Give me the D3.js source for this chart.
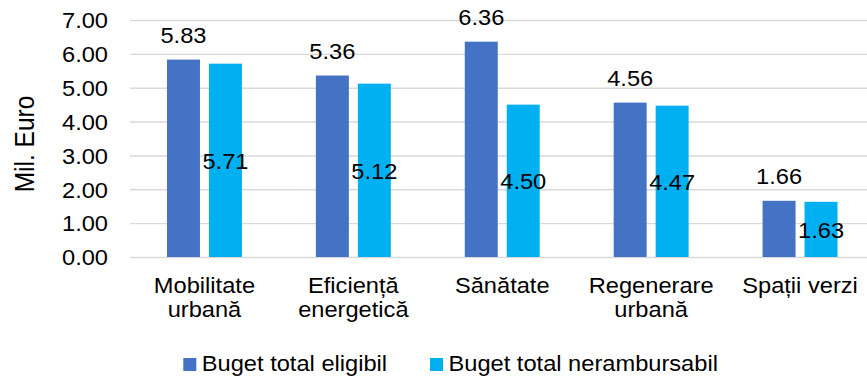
<!DOCTYPE html>
<html>
<head>
<meta charset="utf-8">
<script src="https://cdn.jsdelivr.net/npm/d3@7"></script>
<style>
  html, body { margin: 0; padding: 0; background: #fff; }
  svg { display: block; }
  text { font-family: "Liberation Sans", Arial, sans-serif; fill: #000; }
</style>
</head>
<body>
<svg id="chart" width="867" height="380"></svg>
<script>
// Program budgets by domain (million euro)
const categories = ["Mobilitate\nurbană", "Eficiență\nenergetică", "Sănătate", "Regenerare\nurbană", "Spații verzi"];
const seriesNames = ["Buget total eligibil", "Buget total nerambursabil"];
const eligibil = [5.83, 5.36, 6.36, 4.56, 1.66];
const nerambursabil = [5.71, 5.12, 4.50, 4.47, 1.63];
const yTicks = [0, 1, 2, 3, 4, 5, 6, 7];
const colors = ["#4472C4", "#00B0F0"];

const FS = 21.5;   // font size
const SX = 1.1;    // horizontal text stretch

const svg = d3.select("#chart");
const plotLeft = 130, plotRight = 874.5, plotTop = 20, plotBottom = 257;

const x0 = d3.scaleBand().domain(categories).range([plotLeft, plotRight]).paddingInner(0).paddingOuter(0);
const x1 = d3.scaleBand().domain(seriesNames).range([0, x0.bandwidth()])
  .paddingInner(9 / 42).paddingOuter(0.881);
const y = d3.scaleLinear().domain([0, 7]).range([plotBottom, plotTop]);

// Horizontal gridlines
const grid = svg.append("g").attr("transform", `translate(${plotLeft},0)`)
  .call(d3.axisLeft(y).tickValues(yTicks).tickSize(-(867 - plotLeft)).tickFormat(""));
grid.select(".domain").remove();
grid.selectAll("line").attr("stroke", "#d9d9d9").attr("stroke-width", 1.4);

// Y axis labels
const yAxis = svg.append("g").attr("transform", `translate(${plotLeft},0)`)
  .call(d3.axisLeft(y).tickValues(yTicks).tickSize(0).tickPadding(20).tickFormat(d3.format(".2f")));
yAxis.select(".domain").remove();
yAxis.selectAll("text")
  .attr("font-size", FS).attr("font-family", "Liberation Sans, Arial, sans-serif")
  .attr("fill", "#000")
  .attr("dy", "0.36em")
  .attr("transform", `scale(${SX},1)`);

// Axis title
svg.append("text")
  .attr("transform", `translate(33.5,144) rotate(-90) scale(1,1.12)`)
  .attr("text-anchor", "middle")
  .attr("font-size", 24.5)
  .text("Mil. Euro");

// Bars
const data = categories.map((c, i) => ({ c, vals: [eligibil[i], nerambursabil[i]] }));
const groups = svg.append("g").selectAll("g").data(data).join("g")
  .attr("transform", d => `translate(${x0(d.c)},0)`);

groups.selectAll("rect").data(d => d.vals.map((v, k) => ({ v, k })))
  .join("rect")
  .attr("x", d => x1(seriesNames[d.k]))
  .attr("width", x1.bandwidth())
  .attr("y", d => y(d.v))
  .attr("height", d => y(0) - y(d.v))
  .attr("fill", d => colors[d.k]);

// Value labels: first series above the bar, second series centred in the bar
function stretchedText(sel, x, yPos, str) {
  return sel.append("text")
    .attr("transform", `translate(${x},${yPos}) scale(${SX},1)`)
    .attr("text-anchor", "middle")
    .attr("font-size", FS)
    .text(str);
}
const fmt = d3.format(".2f");
data.forEach(d => {
  const g = svg.append("g");
  const cx0 = x0(d.c) + x1(seriesNames[0]) + x1.bandwidth() / 2;
  const cx1 = x0(d.c) + x1(seriesNames[1]) + x1.bandwidth() / 2;
  stretchedText(g, cx0, y(d.vals[0]) - 17, fmt(d.vals[0]));
  stretchedText(g, cx1, (y(d.vals[1]) + y(0)) / 2 + 8.5, fmt(d.vals[1]));
});

// Category axis
const xAxis = svg.append("g").attr("transform", `translate(0,${plotBottom})`)
  .call(d3.axisBottom(x0).tickSize(0).tickFormat(""));
xAxis.select(".domain").remove();
xAxis.selectAll(".tick").each(function(c) {
  const lines = c.split("\n");
  const t = d3.select(this).append("text")
    .attr("text-anchor", "middle")
    .attr("font-size", FS)
    .attr("fill", "#000")
    .attr("transform", `scale(${SX},1)`);
  lines.forEach((ln, i) => {
    t.append("tspan").attr("x", 0).attr("y", 36.5 + i * 23.5).text(ln);
  });
});

// Legend
const legendX = [183.3, 430];
const legend = svg.append("g");
seriesNames.forEach((s, i) => {
  legend.append("rect")
    .attr("x", legendX[i]).attr("y", 358)
    .attr("width", 13).attr("height", 13)
    .attr("fill", colors[i]);
  legend.append("text")
    .attr("transform", `translate(${legendX[i] + 18.5},371) scale(${SX},1)`)
    .attr("font-size", FS)
    .text(s);
});
</script>
</body>
</html>
